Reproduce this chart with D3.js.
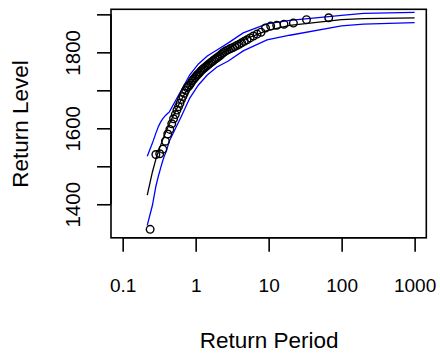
<!DOCTYPE html>
<html>
<head>
<meta charset="utf-8">
<script src="https://cdn.jsdelivr.net/npm/d3@7"></script>
<style>
  html, body { margin: 0; padding: 0; background: #ffffff; }
  svg { display: block; }
  text { font-family: "Liberation Sans", Arial, sans-serif; fill: #000; }
</style>
</head>
<body>
<svg id="chart" width="440" height="355"></svg>
<script>
// Return periods of the fitted curve grid (f = 0.01 ... 0.999, T = -1/log f)
const curvePeriods = [0.2171, 0.2556, 0.2852, 0.3107, 0.3338, 0.3554, 0.3760, 0.3959, 0.4153, 0.4343,
                      0.6213, 0.8306, 1.0914, 1.4427, 1.9576, 2.8037, 4.4814, 9.4912, 19.496, 99.499, 199.5, 999.5];
// Fitted return level
const fitLevel = [1423.8, 1485, 1519, 1541, 1557, 1571, 1583, 1593, 1602, 1611,
                  1672, 1713, 1745, 1768, 1789, 1809, 1833, 1857, 1871, 1886.3, 1888.6, 1890.9];
// Upper and lower confidence bounds
const upperLevel = [1526.6, 1561, 1587.3, 1605.8, 1617.7, 1625.6, 1631.5, 1635.8, 1639.5, 1642.5,
                    1697, 1741, 1769.4, 1790.5, 1806.3, 1824.8, 1851.2, 1875, 1884.2, 1897.4, 1902.6, 1905.3];
const lowerLevel = [1344.6, 1397.4, 1447.5, 1476.5, 1497.6, 1516, 1529.3, 1539.8, 1553, 1566.2,
                    1627, 1679.7, 1714, 1740.4, 1761.5, 1777.3, 1803.7, 1832.7, 1845, 1869.7, 1874.1, 1878];

// Empirical return periods of the sorted observations
const obsPeriods = [0.2378, 0.2848, 0.3219, 0.3548, 0.3853, 0.4144, 0.4427, 0.4705, 0.4981, 0.5257,
                    0.5535, 0.5815, 0.6098, 0.6387, 0.6682, 0.6983, 0.7291, 0.7609, 0.7935, 0.8271,
                    0.8619, 0.8979, 0.9353, 0.9741, 1.014, 1.056, 1.100, 1.146, 1.194, 1.245,
                    1.298, 1.353, 1.412, 1.474, 1.540, 1.610, 1.684, 1.763, 1.848, 1.939,
                    2.036, 2.141, 2.255, 2.378, 2.513, 2.659, 2.820, 2.999, 3.196, 3.417,
                    3.664, 3.945, 4.266, 4.636, 5.066, 5.577, 6.188, 6.930, 7.862, 9.058,
                    10.66, 12.89, 16.23, 21.83, 33.00, 66.50];
// Sorted observed levels
const obsLevel = [1334, 1531, 1533, 1545, 1566, 1585, 1597, 1612, 1625, 1636,
                  1648, 1657, 1666, 1676, 1684, 1692, 1700, 1707, 1710, 1714,
                  1719, 1725, 1729, 1733, 1737, 1741, 1744, 1748, 1752, 1755,
                  1758, 1761, 1764, 1767, 1770, 1773, 1776, 1779, 1782, 1785,
                  1788, 1791, 1795, 1799, 1802, 1805, 1807, 1810, 1812, 1815,
                  1818, 1821, 1825, 1829, 1833, 1838, 1843, 1848, 1853, 1864,
                  1869, 1871, 1874, 1877, 1886, 1891];

const xTicks = [0.1, 1, 10, 100, 1000];
const xTickLabels = ["0.1", "1", "10", "100", "1000"];
const yTicks = [1400, 1500, 1600, 1700, 1800, 1900];
const yTickLabels = ["1400", "", "1600", "", "1800", ""];
const xLimits = [0.1, 1000];

const box = { left: 111, right: 426.3, top: 9.3, bottom: 237.8 };
const svg = d3.select("#chart");

// log axis with 4% padding on each side
const lx0 = Math.log10(xLimits[0]), lx1 = Math.log10(xLimits[1]);
const padX = (lx1 - lx0) * 0.04;
const x = d3.scaleLog()
  .domain([Math.pow(10, lx0 - padX), Math.pow(10, lx1 + padX)])
  .range([box.left, box.right]);

const yMin = d3.min([d3.min(obsLevel), d3.min(fitLevel)]);
const yMax = d3.max([d3.max(obsLevel), d3.max(fitLevel)]);
const padY = (yMax - yMin) * 0.04;
const y = d3.scaleLinear()
  .domain([yMin - padY, yMax + padY])
  .range([box.bottom, box.top]);

svg.append("defs").append("clipPath").attr("id", "plotclip")
  .append("rect")
  .attr("x", box.left).attr("y", box.top)
  .attr("width", box.right - box.left).attr("height", box.bottom - box.top);

const plot = svg.append("g").attr("clip-path", "url(#plotclip)");

const line = d3.line().x(d => x(d[0])).y(d => y(d[1]));

plot.append("path")
  .datum(curvePeriods.map((t, i) => [t, fitLevel[i]]))
  .attr("d", line).attr("fill", "none").attr("stroke", "#000").attr("stroke-width", 1.3);
plot.append("path")
  .datum(curvePeriods.map((t, i) => [t, upperLevel[i]]))
  .attr("d", line).attr("fill", "none").attr("stroke", "#0000ff").attr("stroke-width", 1.3);
plot.append("path")
  .datum(curvePeriods.map((t, i) => [t, lowerLevel[i]]))
  .attr("d", line).attr("fill", "none").attr("stroke", "#0000ff").attr("stroke-width", 1.3);

plot.selectAll("circle.obs")
  .data(obsPeriods.map((t, i) => [t, obsLevel[i]]))
  .join("circle")
  .attr("class", "obs")
  .attr("cx", d => x(d[0])).attr("cy", d => y(d[1]))
  .attr("r", 3.8)
  .attr("fill", "none").attr("stroke", "#000").attr("stroke-width", 1.4);

// frame
svg.append("rect")
  .attr("x", box.left).attr("y", box.top)
  .attr("width", box.right - box.left).attr("height", box.bottom - box.top)
  .attr("fill", "none").attr("stroke", "#000").attr("stroke-width", 1.6);

// x axis
const xAxis = svg.append("g")
  .attr("transform", `translate(0,${box.bottom})`)
  .call(d3.axisBottom(x).tickValues(xTicks).tickFormat((d, i) => xTickLabels[i]).tickSize(14).tickSizeOuter(0));
xAxis.select(".domain")
  .attr("d", `M${x(xTicks[0])},0H${x(xTicks[xTicks.length - 1])}`)
  .attr("stroke-width", 1.6);
xAxis.selectAll(".tick line").attr("stroke-width", 1.6);
xAxis.selectAll(".tick text")
  .attr("y", 54.7).attr("dy", null)
  .style("font-size", "19px").style("font-family", "'Liberation Sans', Arial, sans-serif")
  .attr("fill", "#000");

// y axis
const yAxis = svg.append("g")
  .attr("transform", `translate(${box.left},0)`)
  .call(d3.axisLeft(y).tickValues(yTicks).tickFormat((d, i) => yTickLabels[i]).tickSize(14).tickSizeOuter(0));
yAxis.select(".domain")
  .attr("d", `M0,${y(yTicks[0])}V${y(yTicks[yTicks.length - 1])}`)
  .attr("stroke-width", 1.6);
yAxis.selectAll(".tick line").attr("stroke-width", 1.6);
yAxis.selectAll(".tick text")
  .attr("x", null).attr("dy", null)
  .attr("text-anchor", "middle")
  .attr("transform", "translate(-31.5,0) rotate(-90)")
  .style("font-size", "20.5px").style("font-family", "'Liberation Sans', Arial, sans-serif")
  .attr("fill", "#000");

// axis titles
svg.append("text")
  .attr("x", (box.left + box.right) / 2 + 0.5).attr("y", 348)
  .attr("text-anchor", "middle")
  .style("font-size", "22.5px")
  .text("Return Period");
svg.append("text")
  .attr("transform", `translate(28,${(box.top + box.bottom) / 2 + 0.5}) rotate(-90)`)
  .attr("text-anchor", "middle")
  .style("font-size", "22.5px")
  .text("Return Level");
</script>
</body>
</html>
